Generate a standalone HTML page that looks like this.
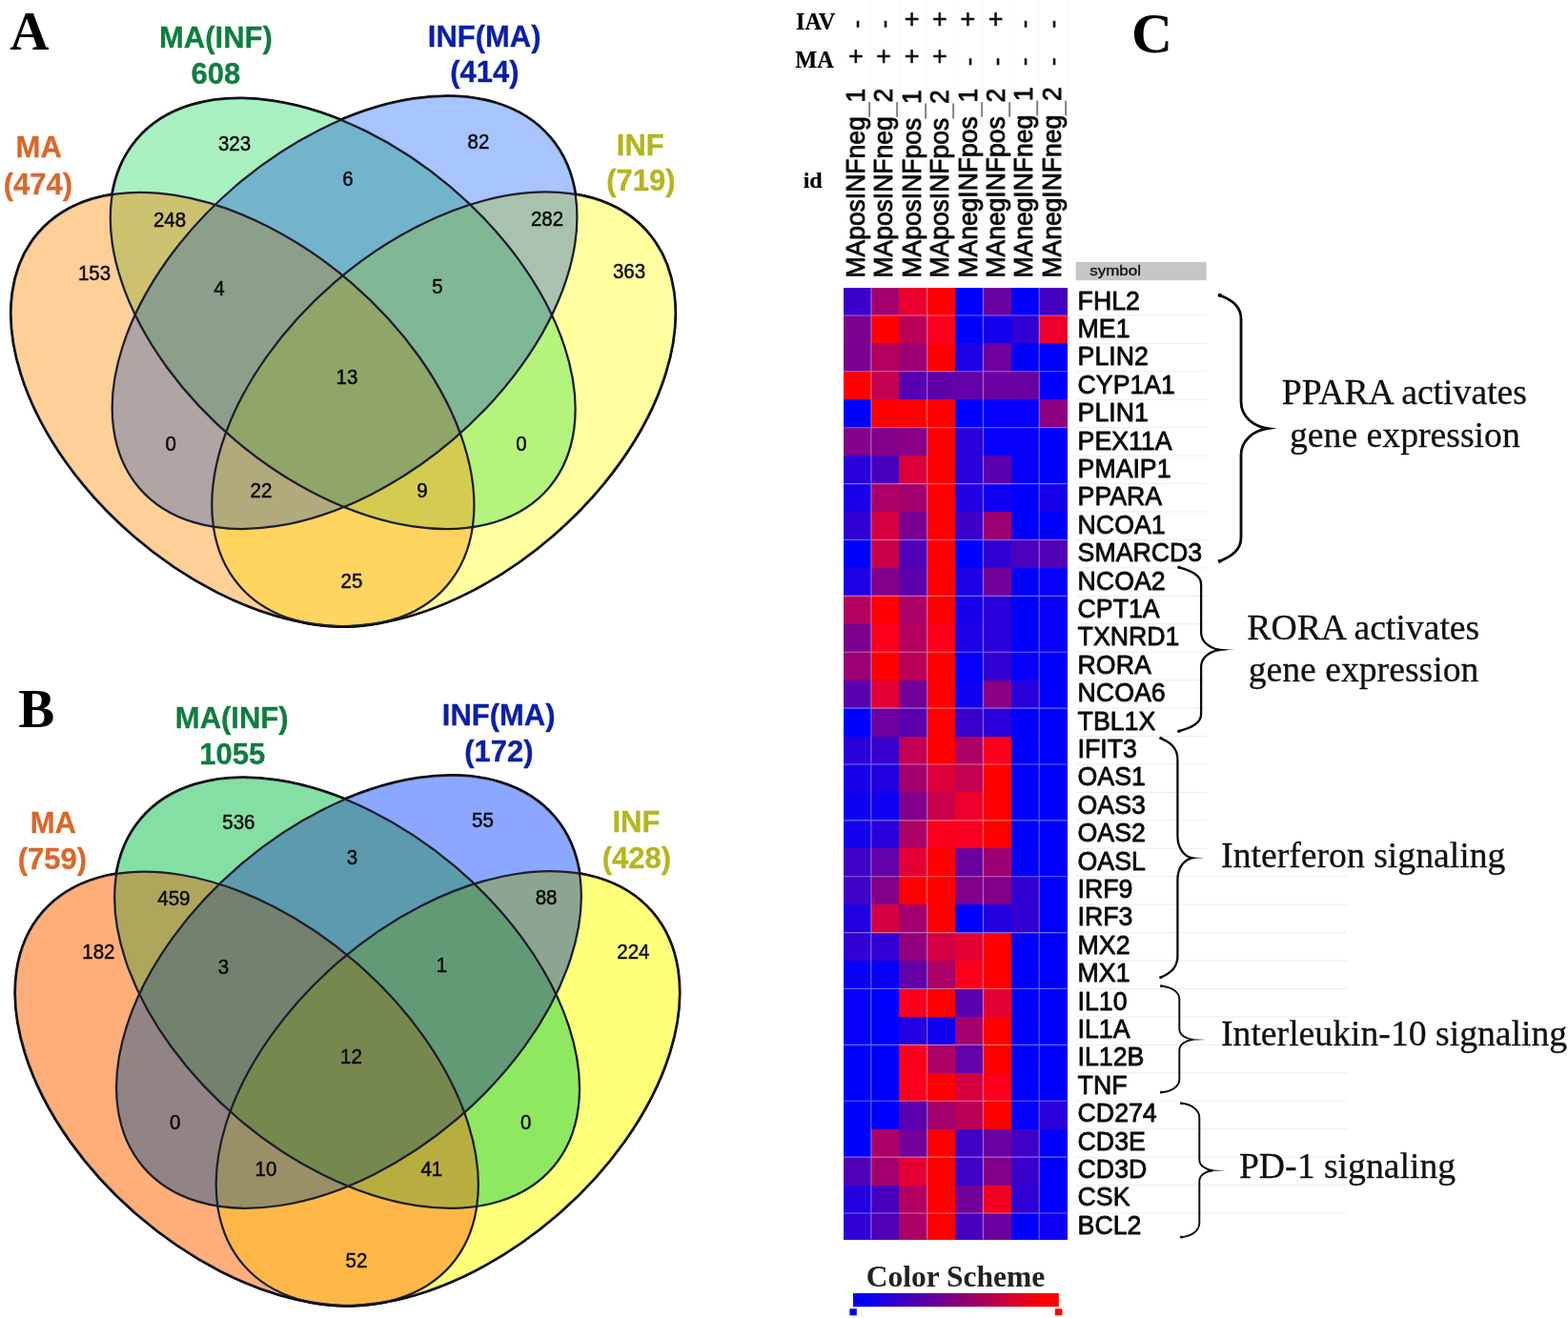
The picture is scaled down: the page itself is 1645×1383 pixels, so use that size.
<!DOCTYPE html>
<html lang="en">
<head>
<meta charset="utf-8">
<title>Figure: Venn diagrams and pathway heat map</title>
<style>
html, body { margin: 0; padding: 0; background: #ffffff; }
body { width: 1645px; height: 1383px; overflow: hidden; }
svg { display: block; }
text { white-space: pre; }
</style>
</head>
<body>
<svg width="1645" height="1383" viewBox="0 0 1645 1383">
<rect x="0" y="0" width="1645" height="1383" fill="#ffffff"/>
<defs>
<clipPath id="ao"><ellipse cx="0" cy="0" rx="283.12" ry="175.13" transform="translate(254.50 429.55) rotate(40.83)" /></clipPath>
<clipPath id="ag"><ellipse cx="0" cy="0" rx="283.04" ry="174.44" transform="translate(359.70 329.05) rotate(40.11)" /></clipPath>
<clipPath id="ab"><ellipse cx="0" cy="0" rx="283.38" ry="175.24" transform="translate(361.55 327.95) rotate(-40.41)" /></clipPath>
<clipPath id="ay"><ellipse cx="0" cy="0" rx="283.30" ry="175.43" transform="translate(465.40 429.30) rotate(-40.84)" /></clipPath>
</defs>
<g clip-path="url(#ao)"><rect x="0" y="90" width="730" height="580" fill="#FFCF98"/></g>
<g clip-path="url(#ag)"><rect x="0" y="90" width="730" height="580" fill="#A9F0C1"/></g>
<g clip-path="url(#ab)"><rect x="0" y="90" width="730" height="580" fill="#A7C4FF"/></g>
<g clip-path="url(#ay)"><rect x="0" y="90" width="730" height="580" fill="#FFFF9F"/></g>
<g clip-path="url(#ag)"><g clip-path="url(#ao)"><rect x="0" y="90" width="730" height="580" fill="#CDC270"/></g></g>
<g clip-path="url(#ab)"><g clip-path="url(#ag)"><rect x="0" y="90" width="730" height="580" fill="#73B4CD"/></g></g>
<g clip-path="url(#ay)"><g clip-path="url(#ab)"><rect x="0" y="90" width="730" height="580" fill="#A8C2AE"/></g></g>
<g clip-path="url(#ab)"><g clip-path="url(#ao)"><rect x="0" y="90" width="730" height="580" fill="#B0A4A4"/></g></g>
<g clip-path="url(#ay)"><g clip-path="url(#ag)"><rect x="0" y="90" width="730" height="580" fill="#B4F47C"/></g></g>
<g clip-path="url(#ay)"><g clip-path="url(#ao)"><rect x="0" y="90" width="730" height="580" fill="#FFD55F"/></g></g>
<g clip-path="url(#ab)"><g clip-path="url(#ag)"><g clip-path="url(#ao)"><rect x="0" y="90" width="730" height="580" fill="#8B9F8B"/></g></g></g>
<g clip-path="url(#ay)"><g clip-path="url(#ab)"><g clip-path="url(#ag)"><rect x="0" y="90" width="730" height="580" fill="#80B896"/></g></g></g>
<g clip-path="url(#ay)"><g clip-path="url(#ab)"><g clip-path="url(#ao)"><rect x="0" y="90" width="730" height="580" fill="#B0AA7C"/></g></g></g>
<g clip-path="url(#ay)"><g clip-path="url(#ag)"><g clip-path="url(#ao)"><rect x="0" y="90" width="730" height="580" fill="#D4CC50"/></g></g></g>
<g clip-path="url(#ay)"><g clip-path="url(#ab)"><g clip-path="url(#ag)"><g clip-path="url(#ao)"><rect x="0" y="90" width="730" height="580" fill="#90A568"/></g></g></g></g>
<ellipse cx="0" cy="0" rx="283.12" ry="175.13" transform="translate(254.50 429.55) rotate(40.83)" fill="none" stroke="#1c1e2c" stroke-width="2.25"/>
<ellipse cx="0" cy="0" rx="283.04" ry="174.44" transform="translate(359.70 329.05) rotate(40.11)" fill="none" stroke="#1c1e2c" stroke-width="2.25"/>
<ellipse cx="0" cy="0" rx="283.38" ry="175.24" transform="translate(361.55 327.95) rotate(-40.41)" fill="none" stroke="#1c1e2c" stroke-width="2.25"/>
<ellipse cx="0" cy="0" rx="283.30" ry="175.43" transform="translate(465.40 429.30) rotate(-40.84)" fill="none" stroke="#1c1e2c" stroke-width="2.25"/>
<mask id="am" maskUnits="userSpaceOnUse" x="-10" y="80" width="750" height="600"><rect x="-10" y="80" width="750" height="600" fill="#fff"/><ellipse cx="0" cy="0" rx="283.12" ry="175.13" transform="translate(254.50 429.55) rotate(40.83)" fill="#000"/><ellipse cx="0" cy="0" rx="283.04" ry="174.44" transform="translate(359.70 329.05) rotate(40.11)" fill="#000"/><ellipse cx="0" cy="0" rx="283.38" ry="175.24" transform="translate(361.55 327.95) rotate(-40.41)" fill="#000"/><ellipse cx="0" cy="0" rx="283.30" ry="175.43" transform="translate(465.40 429.30) rotate(-40.84)" fill="#000"/></mask>
<g mask="url(#am)"><ellipse cx="0" cy="0" rx="283.12" ry="175.13" transform="translate(254.50 429.55) rotate(40.83)" fill="none" stroke="#0b0b0e" stroke-width="3.3"/><ellipse cx="0" cy="0" rx="283.04" ry="174.44" transform="translate(359.70 329.05) rotate(40.11)" fill="none" stroke="#0b0b0e" stroke-width="3.3"/><ellipse cx="0" cy="0" rx="283.38" ry="175.24" transform="translate(361.55 327.95) rotate(-40.41)" fill="none" stroke="#0b0b0e" stroke-width="3.3"/><ellipse cx="0" cy="0" rx="283.30" ry="175.43" transform="translate(465.40 429.30) rotate(-40.84)" fill="none" stroke="#0b0b0e" stroke-width="3.3"/></g>
<text transform="translate(246.00 158.10) scale(1.0 1.06)" font-family='"Liberation Sans", Arial, Helvetica, sans-serif' font-size="20.5" text-anchor="middle" fill="#0a0a0a" stroke="#0a0a0a" stroke-width="0.45" stroke-linejoin="round">323</text>
<text transform="translate(502.00 156.10) scale(1.0 1.06)" font-family='"Liberation Sans", Arial, Helvetica, sans-serif' font-size="20.5" text-anchor="middle" fill="#0a0a0a" stroke="#0a0a0a" stroke-width="0.45" stroke-linejoin="round">82</text>
<text transform="translate(365.00 195.10) scale(1.0 1.06)" font-family='"Liberation Sans", Arial, Helvetica, sans-serif' font-size="20.5" text-anchor="middle" fill="#0a0a0a" stroke="#0a0a0a" stroke-width="0.45" stroke-linejoin="round">6</text>
<text transform="translate(178.00 238.10) scale(1.0 1.06)" font-family='"Liberation Sans", Arial, Helvetica, sans-serif' font-size="20.5" text-anchor="middle" fill="#0a0a0a" stroke="#0a0a0a" stroke-width="0.45" stroke-linejoin="round">248</text>
<text transform="translate(574.00 237.10) scale(1.0 1.06)" font-family='"Liberation Sans", Arial, Helvetica, sans-serif' font-size="20.5" text-anchor="middle" fill="#0a0a0a" stroke="#0a0a0a" stroke-width="0.45" stroke-linejoin="round">282</text>
<text transform="translate(99.00 294.10) scale(1.0 1.06)" font-family='"Liberation Sans", Arial, Helvetica, sans-serif' font-size="20.5" text-anchor="middle" fill="#0a0a0a" stroke="#0a0a0a" stroke-width="0.45" stroke-linejoin="round">153</text>
<text transform="translate(660.00 292.10) scale(1.0 1.06)" font-family='"Liberation Sans", Arial, Helvetica, sans-serif' font-size="20.5" text-anchor="middle" fill="#0a0a0a" stroke="#0a0a0a" stroke-width="0.45" stroke-linejoin="round">363</text>
<text transform="translate(230.00 310.10) scale(1.0 1.06)" font-family='"Liberation Sans", Arial, Helvetica, sans-serif' font-size="20.5" text-anchor="middle" fill="#0a0a0a" stroke="#0a0a0a" stroke-width="0.45" stroke-linejoin="round">4</text>
<text transform="translate(459.00 308.10) scale(1.0 1.06)" font-family='"Liberation Sans", Arial, Helvetica, sans-serif' font-size="20.5" text-anchor="middle" fill="#0a0a0a" stroke="#0a0a0a" stroke-width="0.45" stroke-linejoin="round">5</text>
<text transform="translate(364.00 403.10) scale(1.0 1.06)" font-family='"Liberation Sans", Arial, Helvetica, sans-serif' font-size="20.5" text-anchor="middle" fill="#0a0a0a" stroke="#0a0a0a" stroke-width="0.45" stroke-linejoin="round">13</text>
<text transform="translate(179.20 472.60) scale(1.0 1.06)" font-family='"Liberation Sans", Arial, Helvetica, sans-serif' font-size="20.5" text-anchor="middle" fill="#0a0a0a" stroke="#0a0a0a" stroke-width="0.45" stroke-linejoin="round">0</text>
<text transform="translate(547.00 472.60) scale(1.0 1.06)" font-family='"Liberation Sans", Arial, Helvetica, sans-serif' font-size="20.5" text-anchor="middle" fill="#0a0a0a" stroke="#0a0a0a" stroke-width="0.45" stroke-linejoin="round">0</text>
<text transform="translate(274.00 522.10) scale(1.0 1.06)" font-family='"Liberation Sans", Arial, Helvetica, sans-serif' font-size="20.5" text-anchor="middle" fill="#0a0a0a" stroke="#0a0a0a" stroke-width="0.45" stroke-linejoin="round">22</text>
<text transform="translate(443.00 522.10) scale(1.0 1.06)" font-family='"Liberation Sans", Arial, Helvetica, sans-serif' font-size="20.5" text-anchor="middle" fill="#0a0a0a" stroke="#0a0a0a" stroke-width="0.45" stroke-linejoin="round">9</text>
<text transform="translate(369.00 616.80) scale(1.0 1.06)" font-family='"Liberation Sans", Arial, Helvetica, sans-serif' font-size="20.5" text-anchor="middle" fill="#0a0a0a" stroke="#0a0a0a" stroke-width="0.45" stroke-linejoin="round">25</text>
<text transform="translate(226.40 50.10) scale(1.0 1.04)" font-family='"Liberation Sans", Arial, Helvetica, sans-serif' font-size="31" font-weight="bold" text-anchor="middle" fill="#0F7D3F" stroke="#0F7D3F" stroke-width="0.3" stroke-linejoin="round">MA(INF)</text>
<text transform="translate(226.40 87.70) scale(1.0 1.04)" font-family='"Liberation Sans", Arial, Helvetica, sans-serif' font-size="31" font-weight="bold" text-anchor="middle" fill="#0F7D3F" stroke="#0F7D3F" stroke-width="0.3" stroke-linejoin="round">608</text>
<text transform="translate(508.20 49.30) scale(1.0 1.04)" font-family='"Liberation Sans", Arial, Helvetica, sans-serif' font-size="31" font-weight="bold" text-anchor="middle" fill="#0A1FA8" stroke="#0A1FA8" stroke-width="0.3" stroke-linejoin="round">INF(MA)</text>
<text transform="translate(508.30 86.40) scale(1.0 1.04)" font-family='"Liberation Sans", Arial, Helvetica, sans-serif' font-size="31" font-weight="bold" text-anchor="middle" fill="#0A1FA8" stroke="#0A1FA8" stroke-width="0.3" stroke-linejoin="round">(414)</text>
<text transform="translate(40.70 165.30) scale(1.0 1.04)" font-family='"Liberation Sans", Arial, Helvetica, sans-serif' font-size="31" font-weight="bold" text-anchor="middle" fill="#D9682A" stroke="#D9682A" stroke-width="0.3" stroke-linejoin="round">MA</text>
<text transform="translate(39.80 204.00) scale(1.0 1.04)" font-family='"Liberation Sans", Arial, Helvetica, sans-serif' font-size="31" font-weight="bold" text-anchor="middle" fill="#D9682A" stroke="#D9682A" stroke-width="0.3" stroke-linejoin="round">(474)</text>
<text transform="translate(671.80 162.80) scale(1.0 1.04)" font-family='"Liberation Sans", Arial, Helvetica, sans-serif' font-size="31" font-weight="bold" text-anchor="middle" fill="#B5B51F" stroke="#B5B51F" stroke-width="0.3" stroke-linejoin="round">INF</text>
<text transform="translate(672.30 200.30) scale(1.0 1.04)" font-family='"Liberation Sans", Arial, Helvetica, sans-serif' font-size="31" font-weight="bold" text-anchor="middle" fill="#B5B51F" stroke="#B5B51F" stroke-width="0.3" stroke-linejoin="round">(719)</text>
<defs>
<clipPath id="bo"><ellipse cx="0" cy="0" rx="283.12" ry="175.13" transform="translate(258.90 1142.35) rotate(40.83)" /></clipPath>
<clipPath id="bg"><ellipse cx="0" cy="0" rx="283.04" ry="174.44" transform="translate(364.10 1041.85) rotate(40.11)" /></clipPath>
<clipPath id="bb"><ellipse cx="0" cy="0" rx="283.38" ry="175.24" transform="translate(365.95 1040.75) rotate(-40.41)" /></clipPath>
<clipPath id="by"><ellipse cx="0" cy="0" rx="283.30" ry="175.43" transform="translate(469.80 1142.10) rotate(-40.84)" /></clipPath>
</defs>
<g clip-path="url(#bo)"><rect x="4" y="803" width="730" height="580" fill="#FFAE7A"/></g>
<g clip-path="url(#bg)"><rect x="4" y="803" width="730" height="580" fill="#84DFA5"/></g>
<g clip-path="url(#bb)"><rect x="4" y="803" width="730" height="580" fill="#8BA7FF"/></g>
<g clip-path="url(#by)"><rect x="4" y="803" width="730" height="580" fill="#FFFF79"/></g>
<g clip-path="url(#bg)"><g clip-path="url(#bo)"><rect x="4" y="803" width="730" height="580" fill="#AFA65C"/></g></g>
<g clip-path="url(#bb)"><g clip-path="url(#bg)"><rect x="4" y="803" width="730" height="580" fill="#5C9AB0"/></g></g>
<g clip-path="url(#by)"><g clip-path="url(#bb)"><rect x="4" y="803" width="730" height="580" fill="#8CA590"/></g></g>
<g clip-path="url(#bb)"><g clip-path="url(#bo)"><rect x="4" y="803" width="730" height="580" fill="#928484"/></g></g>
<g clip-path="url(#by)"><g clip-path="url(#bg)"><rect x="4" y="803" width="730" height="580" fill="#8EE860"/></g></g>
<g clip-path="url(#by)"><g clip-path="url(#bo)"><rect x="4" y="803" width="730" height="580" fill="#FFB848"/></g></g>
<g clip-path="url(#bb)"><g clip-path="url(#bg)"><g clip-path="url(#bo)"><rect x="4" y="803" width="730" height="580" fill="#72826E"/></g></g></g>
<g clip-path="url(#by)"><g clip-path="url(#bb)"><g clip-path="url(#bg)"><rect x="4" y="803" width="730" height="580" fill="#629A76"/></g></g></g>
<g clip-path="url(#by)"><g clip-path="url(#bb)"><g clip-path="url(#bo)"><rect x="4" y="803" width="730" height="580" fill="#9A9068"/></g></g></g>
<g clip-path="url(#by)"><g clip-path="url(#bg)"><g clip-path="url(#bo)"><rect x="4" y="803" width="730" height="580" fill="#B8AE40"/></g></g></g>
<g clip-path="url(#by)"><g clip-path="url(#bb)"><g clip-path="url(#bg)"><g clip-path="url(#bo)"><rect x="4" y="803" width="730" height="580" fill="#76884E"/></g></g></g></g>
<ellipse cx="0" cy="0" rx="283.12" ry="175.13" transform="translate(258.90 1142.35) rotate(40.83)" fill="none" stroke="#1c1e2c" stroke-width="2.25"/>
<ellipse cx="0" cy="0" rx="283.04" ry="174.44" transform="translate(364.10 1041.85) rotate(40.11)" fill="none" stroke="#1c1e2c" stroke-width="2.25"/>
<ellipse cx="0" cy="0" rx="283.38" ry="175.24" transform="translate(365.95 1040.75) rotate(-40.41)" fill="none" stroke="#1c1e2c" stroke-width="2.25"/>
<ellipse cx="0" cy="0" rx="283.30" ry="175.43" transform="translate(469.80 1142.10) rotate(-40.84)" fill="none" stroke="#1c1e2c" stroke-width="2.25"/>
<mask id="bm" maskUnits="userSpaceOnUse" x="-6" y="793" width="750" height="600"><rect x="-6" y="793" width="750" height="600" fill="#fff"/><ellipse cx="0" cy="0" rx="283.12" ry="175.13" transform="translate(258.90 1142.35) rotate(40.83)" fill="#000"/><ellipse cx="0" cy="0" rx="283.04" ry="174.44" transform="translate(364.10 1041.85) rotate(40.11)" fill="#000"/><ellipse cx="0" cy="0" rx="283.38" ry="175.24" transform="translate(365.95 1040.75) rotate(-40.41)" fill="#000"/><ellipse cx="0" cy="0" rx="283.30" ry="175.43" transform="translate(469.80 1142.10) rotate(-40.84)" fill="#000"/></mask>
<g mask="url(#bm)"><ellipse cx="0" cy="0" rx="283.12" ry="175.13" transform="translate(258.90 1142.35) rotate(40.83)" fill="none" stroke="#0b0b0e" stroke-width="3.3"/><ellipse cx="0" cy="0" rx="283.04" ry="174.44" transform="translate(364.10 1041.85) rotate(40.11)" fill="none" stroke="#0b0b0e" stroke-width="3.3"/><ellipse cx="0" cy="0" rx="283.38" ry="175.24" transform="translate(365.95 1040.75) rotate(-40.41)" fill="none" stroke="#0b0b0e" stroke-width="3.3"/><ellipse cx="0" cy="0" rx="283.30" ry="175.43" transform="translate(469.80 1142.10) rotate(-40.84)" fill="none" stroke="#0b0b0e" stroke-width="3.3"/></g>
<text transform="translate(250.40 870.30) scale(1.0 1.06)" font-family='"Liberation Sans", Arial, Helvetica, sans-serif' font-size="20.5" text-anchor="middle" fill="#0a0a0a" stroke="#0a0a0a" stroke-width="0.45" stroke-linejoin="round">536</text>
<text transform="translate(506.40 868.30) scale(1.0 1.06)" font-family='"Liberation Sans", Arial, Helvetica, sans-serif' font-size="20.5" text-anchor="middle" fill="#0a0a0a" stroke="#0a0a0a" stroke-width="0.45" stroke-linejoin="round">55</text>
<text transform="translate(369.40 907.30) scale(1.0 1.06)" font-family='"Liberation Sans", Arial, Helvetica, sans-serif' font-size="20.5" text-anchor="middle" fill="#0a0a0a" stroke="#0a0a0a" stroke-width="0.45" stroke-linejoin="round">3</text>
<text transform="translate(182.40 950.30) scale(1.0 1.06)" font-family='"Liberation Sans", Arial, Helvetica, sans-serif' font-size="20.5" text-anchor="middle" fill="#0a0a0a" stroke="#0a0a0a" stroke-width="0.45" stroke-linejoin="round">459</text>
<text transform="translate(573.10 949.30) scale(1.0 1.06)" font-family='"Liberation Sans", Arial, Helvetica, sans-serif' font-size="20.5" text-anchor="middle" fill="#0a0a0a" stroke="#0a0a0a" stroke-width="0.45" stroke-linejoin="round">88</text>
<text transform="translate(103.40 1006.30) scale(1.0 1.06)" font-family='"Liberation Sans", Arial, Helvetica, sans-serif' font-size="20.5" text-anchor="middle" fill="#0a0a0a" stroke="#0a0a0a" stroke-width="0.45" stroke-linejoin="round">182</text>
<text transform="translate(664.40 1005.50) scale(1.0 1.06)" font-family='"Liberation Sans", Arial, Helvetica, sans-serif' font-size="20.5" text-anchor="middle" fill="#0a0a0a" stroke="#0a0a0a" stroke-width="0.45" stroke-linejoin="round">224</text>
<text transform="translate(234.40 1022.30) scale(1.0 1.06)" font-family='"Liberation Sans", Arial, Helvetica, sans-serif' font-size="20.5" text-anchor="middle" fill="#0a0a0a" stroke="#0a0a0a" stroke-width="0.45" stroke-linejoin="round">3</text>
<text transform="translate(463.40 1020.30) scale(1.0 1.06)" font-family='"Liberation Sans", Arial, Helvetica, sans-serif' font-size="20.5" text-anchor="middle" fill="#0a0a0a" stroke="#0a0a0a" stroke-width="0.45" stroke-linejoin="round">1</text>
<text transform="translate(368.40 1115.80) scale(1.0 1.06)" font-family='"Liberation Sans", Arial, Helvetica, sans-serif' font-size="20.5" text-anchor="middle" fill="#0a0a0a" stroke="#0a0a0a" stroke-width="0.45" stroke-linejoin="round">12</text>
<text transform="translate(183.60 1185.30) scale(1.0 1.06)" font-family='"Liberation Sans", Arial, Helvetica, sans-serif' font-size="20.5" text-anchor="middle" fill="#0a0a0a" stroke="#0a0a0a" stroke-width="0.45" stroke-linejoin="round">0</text>
<text transform="translate(551.60 1185.30) scale(1.0 1.06)" font-family='"Liberation Sans", Arial, Helvetica, sans-serif' font-size="20.5" text-anchor="middle" fill="#0a0a0a" stroke="#0a0a0a" stroke-width="0.45" stroke-linejoin="round">0</text>
<text transform="translate(279.00 1234.30) scale(1.0 1.06)" font-family='"Liberation Sans", Arial, Helvetica, sans-serif' font-size="20.5" text-anchor="middle" fill="#0a0a0a" stroke="#0a0a0a" stroke-width="0.45" stroke-linejoin="round">10</text>
<text transform="translate(452.80 1234.30) scale(1.0 1.06)" font-family='"Liberation Sans", Arial, Helvetica, sans-serif' font-size="20.5" text-anchor="middle" fill="#0a0a0a" stroke="#0a0a0a" stroke-width="0.45" stroke-linejoin="round">41</text>
<text transform="translate(374.00 1329.70) scale(1.0 1.06)" font-family='"Liberation Sans", Arial, Helvetica, sans-serif' font-size="20.5" text-anchor="middle" fill="#0a0a0a" stroke="#0a0a0a" stroke-width="0.45" stroke-linejoin="round">52</text>
<text transform="translate(243.20 764.30) scale(1.0 1.04)" font-family='"Liberation Sans", Arial, Helvetica, sans-serif' font-size="31" font-weight="bold" text-anchor="middle" fill="#0F7D3F" stroke="#0F7D3F" stroke-width="0.3" stroke-linejoin="round">MA(INF)</text>
<text transform="translate(243.80 801.70) scale(1.0 1.04)" font-family='"Liberation Sans", Arial, Helvetica, sans-serif' font-size="31" font-weight="bold" text-anchor="middle" fill="#0F7D3F" stroke="#0F7D3F" stroke-width="0.3" stroke-linejoin="round">1055</text>
<text transform="translate(523.20 761.40) scale(1.0 1.04)" font-family='"Liberation Sans", Arial, Helvetica, sans-serif' font-size="31" font-weight="bold" text-anchor="middle" fill="#0A1FA8" stroke="#0A1FA8" stroke-width="0.3" stroke-linejoin="round">INF(MA)</text>
<text transform="translate(523.40 799.00) scale(1.0 1.04)" font-family='"Liberation Sans", Arial, Helvetica, sans-serif' font-size="31" font-weight="bold" text-anchor="middle" fill="#0A1FA8" stroke="#0A1FA8" stroke-width="0.3" stroke-linejoin="round">(172)</text>
<text transform="translate(55.80 874.20) scale(1.0 1.04)" font-family='"Liberation Sans", Arial, Helvetica, sans-serif' font-size="31" font-weight="bold" text-anchor="middle" fill="#D9682A" stroke="#D9682A" stroke-width="0.3" stroke-linejoin="round">MA</text>
<text transform="translate(54.80 912.20) scale(1.0 1.04)" font-family='"Liberation Sans", Arial, Helvetica, sans-serif' font-size="31" font-weight="bold" text-anchor="middle" fill="#D9682A" stroke="#D9682A" stroke-width="0.3" stroke-linejoin="round">(759)</text>
<text transform="translate(667.40 873.40) scale(1.0 1.04)" font-family='"Liberation Sans", Arial, Helvetica, sans-serif' font-size="31" font-weight="bold" text-anchor="middle" fill="#B5B51F" stroke="#B5B51F" stroke-width="0.3" stroke-linejoin="round">INF</text>
<text transform="translate(667.80 911.30) scale(1.0 1.04)" font-family='"Liberation Sans", Arial, Helvetica, sans-serif' font-size="31" font-weight="bold" text-anchor="middle" fill="#B5B51F" stroke="#B5B51F" stroke-width="0.3" stroke-linejoin="round">(428)</text>
<text transform="translate(10.30 51.60)" font-family='"Liberation Serif", "Times New Roman", Times, serif' font-size="57" font-weight="bold" text-anchor="start" fill="#000">A</text>
<text transform="translate(19.30 762.60)" font-family='"Liberation Serif", "Times New Roman", Times, serif' font-size="57" font-weight="bold" text-anchor="start" fill="#000">B</text>
<text transform="translate(1187.00 55.00)" font-family='"Liberation Serif", "Times New Roman", Times, serif' font-size="59.5" font-weight="bold" text-anchor="start" fill="#000">C</text>
<g shape-rendering="crispEdges">
<rect x="884.50" y="301.50" width="29.69" height="29.74" fill="#3C00CA"/>
<rect x="913.89" y="301.50" width="29.69" height="29.74" fill="#A4006D"/>
<rect x="943.27" y="301.50" width="29.69" height="29.74" fill="#EA002E"/>
<rect x="972.66" y="301.50" width="29.69" height="29.74" fill="#FF0000"/>
<rect x="1002.05" y="301.50" width="29.69" height="29.74" fill="#0000FF"/>
<rect x="1031.44" y="301.50" width="29.69" height="29.74" fill="#6800A2"/>
<rect x="1060.82" y="301.50" width="29.69" height="29.74" fill="#0000FF"/>
<rect x="1090.21" y="301.50" width="29.69" height="29.74" fill="#4600C0"/>
<rect x="884.50" y="330.94" width="29.69" height="29.74" fill="#7D0090"/>
<rect x="913.89" y="330.94" width="29.69" height="29.74" fill="#FF0000"/>
<rect x="943.27" y="330.94" width="29.69" height="29.74" fill="#BB0058"/>
<rect x="972.66" y="330.94" width="29.69" height="29.74" fill="#FC001E"/>
<rect x="1002.05" y="330.94" width="29.69" height="29.74" fill="#0000FF"/>
<rect x="1031.44" y="330.94" width="29.69" height="29.74" fill="#1500EC"/>
<rect x="1060.82" y="330.94" width="29.69" height="29.74" fill="#3100D3"/>
<rect x="1090.21" y="330.94" width="29.69" height="29.74" fill="#ED002C"/>
<rect x="884.50" y="360.38" width="29.69" height="29.74" fill="#7A0092"/>
<rect x="913.89" y="360.38" width="29.69" height="29.74" fill="#B3005F"/>
<rect x="943.27" y="360.38" width="29.69" height="29.74" fill="#9C0074"/>
<rect x="972.66" y="360.38" width="29.69" height="29.74" fill="#FF0000"/>
<rect x="1002.05" y="360.38" width="29.69" height="29.74" fill="#1D00E6"/>
<rect x="1031.44" y="360.38" width="29.69" height="29.74" fill="#6D009E"/>
<rect x="1060.82" y="360.38" width="29.69" height="29.74" fill="#0000FF"/>
<rect x="1090.21" y="360.38" width="29.69" height="29.74" fill="#0000FF"/>
<rect x="884.50" y="389.82" width="29.69" height="29.74" fill="#FF0000"/>
<rect x="913.89" y="389.82" width="29.69" height="29.74" fill="#C30051"/>
<rect x="943.27" y="389.82" width="29.69" height="29.74" fill="#5600B2"/>
<rect x="972.66" y="389.82" width="29.69" height="29.74" fill="#6000A9"/>
<rect x="1002.05" y="389.82" width="29.69" height="29.74" fill="#6300A7"/>
<rect x="1031.44" y="389.82" width="29.69" height="29.74" fill="#6800A2"/>
<rect x="1060.82" y="389.82" width="29.69" height="29.74" fill="#6800A2"/>
<rect x="1090.21" y="389.82" width="29.69" height="29.74" fill="#0000FF"/>
<rect x="884.50" y="419.26" width="29.69" height="29.74" fill="#0000FF"/>
<rect x="913.89" y="419.26" width="29.69" height="29.74" fill="#FF0000"/>
<rect x="943.27" y="419.26" width="29.69" height="29.74" fill="#FF0000"/>
<rect x="972.66" y="419.26" width="29.69" height="29.74" fill="#FF0000"/>
<rect x="1002.05" y="419.26" width="29.69" height="29.74" fill="#0000FF"/>
<rect x="1031.44" y="419.26" width="29.69" height="29.74" fill="#0500FA"/>
<rect x="1060.82" y="419.26" width="29.69" height="29.74" fill="#0500FA"/>
<rect x="1090.21" y="419.26" width="29.69" height="29.74" fill="#8C0082"/>
<rect x="884.50" y="448.70" width="29.69" height="29.74" fill="#82008B"/>
<rect x="913.89" y="448.70" width="29.69" height="29.74" fill="#82008B"/>
<rect x="943.27" y="448.70" width="29.69" height="29.74" fill="#870086"/>
<rect x="972.66" y="448.70" width="29.69" height="29.74" fill="#FF0000"/>
<rect x="1002.05" y="448.70" width="29.69" height="29.74" fill="#2A00DA"/>
<rect x="1031.44" y="448.70" width="29.69" height="29.74" fill="#0500FA"/>
<rect x="1060.82" y="448.70" width="29.69" height="29.74" fill="#0500FA"/>
<rect x="1090.21" y="448.70" width="29.69" height="29.74" fill="#0000FF"/>
<rect x="884.50" y="478.14" width="29.69" height="29.74" fill="#2A00DA"/>
<rect x="913.89" y="478.14" width="29.69" height="29.74" fill="#4900BE"/>
<rect x="943.27" y="478.14" width="29.69" height="29.74" fill="#DD003A"/>
<rect x="972.66" y="478.14" width="29.69" height="29.74" fill="#FF0000"/>
<rect x="1002.05" y="478.14" width="29.69" height="29.74" fill="#2A00DA"/>
<rect x="1031.44" y="478.14" width="29.69" height="29.74" fill="#5B00AE"/>
<rect x="1060.82" y="478.14" width="29.69" height="29.74" fill="#0500FA"/>
<rect x="1090.21" y="478.14" width="29.69" height="29.74" fill="#0000FF"/>
<rect x="884.50" y="507.58" width="29.69" height="29.74" fill="#1A00E8"/>
<rect x="913.89" y="507.58" width="29.69" height="29.74" fill="#AC0066"/>
<rect x="943.27" y="507.58" width="29.69" height="29.74" fill="#A4006D"/>
<rect x="972.66" y="507.58" width="29.69" height="29.74" fill="#FF0000"/>
<rect x="1002.05" y="507.58" width="29.69" height="29.74" fill="#2200E1"/>
<rect x="1031.44" y="507.58" width="29.69" height="29.74" fill="#1000F1"/>
<rect x="1060.82" y="507.58" width="29.69" height="29.74" fill="#0000FF"/>
<rect x="1090.21" y="507.58" width="29.69" height="29.74" fill="#1700EA"/>
<rect x="884.50" y="537.02" width="29.69" height="29.74" fill="#3100D3"/>
<rect x="913.89" y="537.02" width="29.69" height="29.74" fill="#D50041"/>
<rect x="943.27" y="537.02" width="29.69" height="29.74" fill="#7A0092"/>
<rect x="972.66" y="537.02" width="29.69" height="29.74" fill="#FF0000"/>
<rect x="1002.05" y="537.02" width="29.69" height="29.74" fill="#3C00CA"/>
<rect x="1031.44" y="537.02" width="29.69" height="29.74" fill="#9C0074"/>
<rect x="1060.82" y="537.02" width="29.69" height="29.74" fill="#0000FF"/>
<rect x="1090.21" y="537.02" width="29.69" height="29.74" fill="#0000FF"/>
<rect x="884.50" y="566.46" width="29.69" height="29.74" fill="#0000FF"/>
<rect x="913.89" y="566.46" width="29.69" height="29.74" fill="#CB004A"/>
<rect x="943.27" y="566.46" width="29.69" height="29.74" fill="#4E00B9"/>
<rect x="972.66" y="566.46" width="29.69" height="29.74" fill="#FF0000"/>
<rect x="1002.05" y="566.46" width="29.69" height="29.74" fill="#0000FF"/>
<rect x="1031.44" y="566.46" width="29.69" height="29.74" fill="#3100D3"/>
<rect x="1060.82" y="566.46" width="29.69" height="29.74" fill="#4B00BC"/>
<rect x="1090.21" y="566.46" width="29.69" height="29.74" fill="#5100B7"/>
<rect x="884.50" y="595.90" width="29.69" height="29.74" fill="#1D00E6"/>
<rect x="913.89" y="595.90" width="29.69" height="29.74" fill="#82008B"/>
<rect x="943.27" y="595.90" width="29.69" height="29.74" fill="#5B00AE"/>
<rect x="972.66" y="595.90" width="29.69" height="29.74" fill="#FF0000"/>
<rect x="1002.05" y="595.90" width="29.69" height="29.74" fill="#1D00E6"/>
<rect x="1031.44" y="595.90" width="29.69" height="29.74" fill="#720099"/>
<rect x="1060.82" y="595.90" width="29.69" height="29.74" fill="#0000FF"/>
<rect x="1090.21" y="595.90" width="29.69" height="29.74" fill="#0500FA"/>
<rect x="884.50" y="625.34" width="29.69" height="29.74" fill="#B3005F"/>
<rect x="913.89" y="625.34" width="29.69" height="29.74" fill="#FF0000"/>
<rect x="943.27" y="625.34" width="29.69" height="29.74" fill="#AC0066"/>
<rect x="972.66" y="625.34" width="29.69" height="29.74" fill="#FF0000"/>
<rect x="1002.05" y="625.34" width="29.69" height="29.74" fill="#1700EA"/>
<rect x="1031.44" y="625.34" width="29.69" height="29.74" fill="#2A00DA"/>
<rect x="1060.82" y="625.34" width="29.69" height="29.74" fill="#0000FF"/>
<rect x="1090.21" y="625.34" width="29.69" height="29.74" fill="#0800F8"/>
<rect x="884.50" y="654.78" width="29.69" height="29.74" fill="#7A0092"/>
<rect x="913.89" y="654.78" width="29.69" height="29.74" fill="#FC001E"/>
<rect x="943.27" y="654.78" width="29.69" height="29.74" fill="#B3005F"/>
<rect x="972.66" y="654.78" width="29.69" height="29.74" fill="#FF001A"/>
<rect x="1002.05" y="654.78" width="29.69" height="29.74" fill="#1D00E6"/>
<rect x="1031.44" y="654.78" width="29.69" height="29.74" fill="#2A00DA"/>
<rect x="1060.82" y="654.78" width="29.69" height="29.74" fill="#0000FF"/>
<rect x="1090.21" y="654.78" width="29.69" height="29.74" fill="#0800F8"/>
<rect x="884.50" y="684.22" width="29.69" height="29.74" fill="#9C0074"/>
<rect x="913.89" y="684.22" width="29.69" height="29.74" fill="#FF0000"/>
<rect x="943.27" y="684.22" width="29.69" height="29.74" fill="#BB0058"/>
<rect x="972.66" y="684.22" width="29.69" height="29.74" fill="#FF0000"/>
<rect x="1002.05" y="684.22" width="29.69" height="29.74" fill="#0500FA"/>
<rect x="1031.44" y="684.22" width="29.69" height="29.74" fill="#3100D3"/>
<rect x="1060.82" y="684.22" width="29.69" height="29.74" fill="#0500FA"/>
<rect x="1090.21" y="684.22" width="29.69" height="29.74" fill="#0000FF"/>
<rect x="884.50" y="713.66" width="29.69" height="29.74" fill="#5B00AE"/>
<rect x="913.89" y="713.66" width="29.69" height="29.74" fill="#E20035"/>
<rect x="943.27" y="713.66" width="29.69" height="29.74" fill="#720099"/>
<rect x="972.66" y="713.66" width="29.69" height="29.74" fill="#FF0000"/>
<rect x="1002.05" y="713.66" width="29.69" height="29.74" fill="#1000F1"/>
<rect x="1031.44" y="713.66" width="29.69" height="29.74" fill="#8A0084"/>
<rect x="1060.82" y="713.66" width="29.69" height="29.74" fill="#2A00DA"/>
<rect x="1090.21" y="713.66" width="29.69" height="29.74" fill="#0000FF"/>
<rect x="884.50" y="743.10" width="29.69" height="29.74" fill="#0000FF"/>
<rect x="913.89" y="743.10" width="29.69" height="29.74" fill="#6D009E"/>
<rect x="943.27" y="743.10" width="29.69" height="29.74" fill="#5B00AE"/>
<rect x="972.66" y="743.10" width="29.69" height="29.74" fill="#FF0000"/>
<rect x="1002.05" y="743.10" width="29.69" height="29.74" fill="#3900CC"/>
<rect x="1031.44" y="743.10" width="29.69" height="29.74" fill="#2A00DA"/>
<rect x="1060.82" y="743.10" width="29.69" height="29.74" fill="#0000FF"/>
<rect x="1090.21" y="743.10" width="29.69" height="29.74" fill="#0000FF"/>
<rect x="884.50" y="772.54" width="29.69" height="29.74" fill="#2A00DA"/>
<rect x="913.89" y="772.54" width="29.69" height="29.74" fill="#3900CC"/>
<rect x="943.27" y="772.54" width="29.69" height="29.74" fill="#C30051"/>
<rect x="972.66" y="772.54" width="29.69" height="29.74" fill="#FF0000"/>
<rect x="1002.05" y="772.54" width="29.69" height="29.74" fill="#AC0066"/>
<rect x="1031.44" y="772.54" width="29.69" height="29.74" fill="#FC001E"/>
<rect x="1060.82" y="772.54" width="29.69" height="29.74" fill="#0000FF"/>
<rect x="1090.21" y="772.54" width="29.69" height="29.74" fill="#0000FF"/>
<rect x="884.50" y="801.98" width="29.69" height="29.74" fill="#1700EA"/>
<rect x="913.89" y="801.98" width="29.69" height="29.74" fill="#2200E1"/>
<rect x="943.27" y="801.98" width="29.69" height="29.74" fill="#A4006D"/>
<rect x="972.66" y="801.98" width="29.69" height="29.74" fill="#DD003A"/>
<rect x="1002.05" y="801.98" width="29.69" height="29.74" fill="#C30051"/>
<rect x="1031.44" y="801.98" width="29.69" height="29.74" fill="#FF0000"/>
<rect x="1060.82" y="801.98" width="29.69" height="29.74" fill="#0000FF"/>
<rect x="1090.21" y="801.98" width="29.69" height="29.74" fill="#0000FF"/>
<rect x="884.50" y="831.42" width="29.69" height="29.74" fill="#1000F1"/>
<rect x="913.89" y="831.42" width="29.69" height="29.74" fill="#1000F1"/>
<rect x="943.27" y="831.42" width="29.69" height="29.74" fill="#82008B"/>
<rect x="972.66" y="831.42" width="29.69" height="29.74" fill="#CB004A"/>
<rect x="1002.05" y="831.42" width="29.69" height="29.74" fill="#ED002C"/>
<rect x="1031.44" y="831.42" width="29.69" height="29.74" fill="#FF0000"/>
<rect x="1060.82" y="831.42" width="29.69" height="29.74" fill="#0000FF"/>
<rect x="1090.21" y="831.42" width="29.69" height="29.74" fill="#0000FF"/>
<rect x="884.50" y="860.86" width="29.69" height="29.74" fill="#1500EC"/>
<rect x="913.89" y="860.86" width="29.69" height="29.74" fill="#2A00DA"/>
<rect x="943.27" y="860.86" width="29.69" height="29.74" fill="#AC0066"/>
<rect x="972.66" y="860.86" width="29.69" height="29.74" fill="#FC001E"/>
<rect x="1002.05" y="860.86" width="29.69" height="29.74" fill="#FA0020"/>
<rect x="1031.44" y="860.86" width="29.69" height="29.74" fill="#FF0000"/>
<rect x="1060.82" y="860.86" width="29.69" height="29.74" fill="#0000FF"/>
<rect x="1090.21" y="860.86" width="29.69" height="29.74" fill="#0000FF"/>
<rect x="884.50" y="890.30" width="29.69" height="29.74" fill="#4100C5"/>
<rect x="913.89" y="890.30" width="29.69" height="29.74" fill="#6300A7"/>
<rect x="943.27" y="890.30" width="29.69" height="29.74" fill="#E50033"/>
<rect x="972.66" y="890.30" width="29.69" height="29.74" fill="#FF0000"/>
<rect x="1002.05" y="890.30" width="29.69" height="29.74" fill="#6B00A0"/>
<rect x="1031.44" y="890.30" width="29.69" height="29.74" fill="#9C0074"/>
<rect x="1060.82" y="890.30" width="29.69" height="29.74" fill="#0000FF"/>
<rect x="1090.21" y="890.30" width="29.69" height="29.74" fill="#0000FF"/>
<rect x="884.50" y="919.74" width="29.69" height="29.74" fill="#4100C5"/>
<rect x="913.89" y="919.74" width="29.69" height="29.74" fill="#82008B"/>
<rect x="943.27" y="919.74" width="29.69" height="29.74" fill="#FF0000"/>
<rect x="972.66" y="919.74" width="29.69" height="29.74" fill="#FF0000"/>
<rect x="1002.05" y="919.74" width="29.69" height="29.74" fill="#82008B"/>
<rect x="1031.44" y="919.74" width="29.69" height="29.74" fill="#82008B"/>
<rect x="1060.82" y="919.74" width="29.69" height="29.74" fill="#3100D3"/>
<rect x="1090.21" y="919.74" width="29.69" height="29.74" fill="#0000FF"/>
<rect x="884.50" y="949.18" width="29.69" height="29.74" fill="#2200E1"/>
<rect x="913.89" y="949.18" width="29.69" height="29.74" fill="#D50041"/>
<rect x="943.27" y="949.18" width="29.69" height="29.74" fill="#A4006D"/>
<rect x="972.66" y="949.18" width="29.69" height="29.74" fill="#FF0000"/>
<rect x="1002.05" y="949.18" width="29.69" height="29.74" fill="#0000FF"/>
<rect x="1031.44" y="949.18" width="29.69" height="29.74" fill="#2400DF"/>
<rect x="1060.82" y="949.18" width="29.69" height="29.74" fill="#3100D3"/>
<rect x="1090.21" y="949.18" width="29.69" height="29.74" fill="#0000FF"/>
<rect x="884.50" y="978.62" width="29.69" height="29.74" fill="#3100D3"/>
<rect x="913.89" y="978.62" width="29.69" height="29.74" fill="#3100D3"/>
<rect x="943.27" y="978.62" width="29.69" height="29.74" fill="#92007D"/>
<rect x="972.66" y="978.62" width="29.69" height="29.74" fill="#D50041"/>
<rect x="1002.05" y="978.62" width="29.69" height="29.74" fill="#E50033"/>
<rect x="1031.44" y="978.62" width="29.69" height="29.74" fill="#FF0000"/>
<rect x="1060.82" y="978.62" width="29.69" height="29.74" fill="#0000FF"/>
<rect x="1090.21" y="978.62" width="29.69" height="29.74" fill="#0000FF"/>
<rect x="884.50" y="1008.06" width="29.69" height="29.74" fill="#0800F8"/>
<rect x="913.89" y="1008.06" width="29.69" height="29.74" fill="#0800F8"/>
<rect x="943.27" y="1008.06" width="29.69" height="29.74" fill="#6300A7"/>
<rect x="972.66" y="1008.06" width="29.69" height="29.74" fill="#AC0066"/>
<rect x="1002.05" y="1008.06" width="29.69" height="29.74" fill="#FC001E"/>
<rect x="1031.44" y="1008.06" width="29.69" height="29.74" fill="#FF0000"/>
<rect x="1060.82" y="1008.06" width="29.69" height="29.74" fill="#0000FF"/>
<rect x="1090.21" y="1008.06" width="29.69" height="29.74" fill="#0000FF"/>
<rect x="884.50" y="1037.50" width="29.69" height="29.74" fill="#0500FA"/>
<rect x="913.89" y="1037.50" width="29.69" height="29.74" fill="#0000FF"/>
<rect x="943.27" y="1037.50" width="29.69" height="29.74" fill="#FC001E"/>
<rect x="972.66" y="1037.50" width="29.69" height="29.74" fill="#FF0000"/>
<rect x="1002.05" y="1037.50" width="29.69" height="29.74" fill="#5B00AE"/>
<rect x="1031.44" y="1037.50" width="29.69" height="29.74" fill="#E50033"/>
<rect x="1060.82" y="1037.50" width="29.69" height="29.74" fill="#0000FF"/>
<rect x="1090.21" y="1037.50" width="29.69" height="29.74" fill="#0000FF"/>
<rect x="884.50" y="1066.94" width="29.69" height="29.74" fill="#0500FA"/>
<rect x="913.89" y="1066.94" width="29.69" height="29.74" fill="#0000FF"/>
<rect x="943.27" y="1066.94" width="29.69" height="29.74" fill="#2200E1"/>
<rect x="972.66" y="1066.94" width="29.69" height="29.74" fill="#1000F1"/>
<rect x="1002.05" y="1066.94" width="29.69" height="29.74" fill="#A4006D"/>
<rect x="1031.44" y="1066.94" width="29.69" height="29.74" fill="#FF0000"/>
<rect x="1060.82" y="1066.94" width="29.69" height="29.74" fill="#0000FF"/>
<rect x="1090.21" y="1066.94" width="29.69" height="29.74" fill="#0000FF"/>
<rect x="884.50" y="1096.38" width="29.69" height="29.74" fill="#0000FF"/>
<rect x="913.89" y="1096.38" width="29.69" height="29.74" fill="#0000FF"/>
<rect x="943.27" y="1096.38" width="29.69" height="29.74" fill="#FF001C"/>
<rect x="972.66" y="1096.38" width="29.69" height="29.74" fill="#AC0066"/>
<rect x="1002.05" y="1096.38" width="29.69" height="29.74" fill="#6300A7"/>
<rect x="1031.44" y="1096.38" width="29.69" height="29.74" fill="#FF0000"/>
<rect x="1060.82" y="1096.38" width="29.69" height="29.74" fill="#0000FF"/>
<rect x="1090.21" y="1096.38" width="29.69" height="29.74" fill="#0000FF"/>
<rect x="884.50" y="1125.82" width="29.69" height="29.74" fill="#0000FF"/>
<rect x="913.89" y="1125.82" width="29.69" height="29.74" fill="#0000FF"/>
<rect x="943.27" y="1125.82" width="29.69" height="29.74" fill="#FF001C"/>
<rect x="972.66" y="1125.82" width="29.69" height="29.74" fill="#FF0000"/>
<rect x="1002.05" y="1125.82" width="29.69" height="29.74" fill="#D50041"/>
<rect x="1031.44" y="1125.82" width="29.69" height="29.74" fill="#FC001E"/>
<rect x="1060.82" y="1125.82" width="29.69" height="29.74" fill="#0000FF"/>
<rect x="1090.21" y="1125.82" width="29.69" height="29.74" fill="#0000FF"/>
<rect x="884.50" y="1155.26" width="29.69" height="29.74" fill="#0000FF"/>
<rect x="913.89" y="1155.26" width="29.69" height="29.74" fill="#0000FF"/>
<rect x="943.27" y="1155.26" width="29.69" height="29.74" fill="#5B00AE"/>
<rect x="972.66" y="1155.26" width="29.69" height="29.74" fill="#A4006D"/>
<rect x="1002.05" y="1155.26" width="29.69" height="29.74" fill="#BB0058"/>
<rect x="1031.44" y="1155.26" width="29.69" height="29.74" fill="#FF0000"/>
<rect x="1060.82" y="1155.26" width="29.69" height="29.74" fill="#0500FA"/>
<rect x="1090.21" y="1155.26" width="29.69" height="29.74" fill="#2A00DA"/>
<rect x="884.50" y="1184.70" width="29.69" height="29.74" fill="#0000FF"/>
<rect x="913.89" y="1184.70" width="29.69" height="29.74" fill="#AC0066"/>
<rect x="943.27" y="1184.70" width="29.69" height="29.74" fill="#720099"/>
<rect x="972.66" y="1184.70" width="29.69" height="29.74" fill="#FF0000"/>
<rect x="1002.05" y="1184.70" width="29.69" height="29.74" fill="#4100C5"/>
<rect x="1031.44" y="1184.70" width="29.69" height="29.74" fill="#6B00A0"/>
<rect x="1060.82" y="1184.70" width="29.69" height="29.74" fill="#4100C5"/>
<rect x="1090.21" y="1184.70" width="29.69" height="29.74" fill="#0000FF"/>
<rect x="884.50" y="1214.14" width="29.69" height="29.74" fill="#5100B7"/>
<rect x="913.89" y="1214.14" width="29.69" height="29.74" fill="#A4006D"/>
<rect x="943.27" y="1214.14" width="29.69" height="29.74" fill="#E50033"/>
<rect x="972.66" y="1214.14" width="29.69" height="29.74" fill="#FF0000"/>
<rect x="1002.05" y="1214.14" width="29.69" height="29.74" fill="#4100C5"/>
<rect x="1031.44" y="1214.14" width="29.69" height="29.74" fill="#82008B"/>
<rect x="1060.82" y="1214.14" width="29.69" height="29.74" fill="#3900CC"/>
<rect x="1090.21" y="1214.14" width="29.69" height="29.74" fill="#0000FF"/>
<rect x="884.50" y="1243.58" width="29.69" height="29.74" fill="#2200E1"/>
<rect x="913.89" y="1243.58" width="29.69" height="29.74" fill="#4900BE"/>
<rect x="943.27" y="1243.58" width="29.69" height="29.74" fill="#B3005F"/>
<rect x="972.66" y="1243.58" width="29.69" height="29.74" fill="#FF0000"/>
<rect x="1002.05" y="1243.58" width="29.69" height="29.74" fill="#720099"/>
<rect x="1031.44" y="1243.58" width="29.69" height="29.74" fill="#F40025"/>
<rect x="1060.82" y="1243.58" width="29.69" height="29.74" fill="#3100D3"/>
<rect x="1090.21" y="1243.58" width="29.69" height="29.74" fill="#0000FF"/>
<rect x="884.50" y="1273.02" width="29.69" height="27.48" fill="#3100D3"/>
<rect x="913.89" y="1273.02" width="29.69" height="27.48" fill="#5100B7"/>
<rect x="943.27" y="1273.02" width="29.69" height="27.48" fill="#AC0066"/>
<rect x="972.66" y="1273.02" width="29.69" height="27.48" fill="#FF0000"/>
<rect x="1002.05" y="1273.02" width="29.69" height="27.48" fill="#4900BE"/>
<rect x="1031.44" y="1273.02" width="29.69" height="27.48" fill="#6B00A0"/>
<rect x="1060.82" y="1273.02" width="29.69" height="27.48" fill="#0000FF"/>
<rect x="1090.21" y="1273.02" width="29.69" height="27.48" fill="#0D00F3"/>
</g>
<path d="M913.89 301.5V1300.5M972.66 301.5V1300.5M1031.44 301.5V1300.5M1090.21 301.5V1300.5M884.5 330.94H1119.6M884.5 389.82H1119.6M884.5 448.70H1119.6M884.5 507.58H1119.6M884.5 566.46H1119.6M884.5 625.34H1119.6M884.5 684.22H1119.6M884.5 743.10H1119.6M884.5 801.98H1119.6M884.5 860.86H1119.6M884.5 919.74H1119.6M884.5 978.62H1119.6M884.5 1037.50H1119.6M884.5 1096.38H1119.6M884.5 1155.26H1119.6M884.5 1214.14H1119.6M884.5 1273.02H1119.6" stroke="#fff" stroke-opacity="0.42" stroke-width="1.1" fill="none"/>
<path d="M1129 330.94H1266M1129 360.38H1266M1129 389.82H1266M1129 419.26H1266M1129 448.70H1266M1129 478.14H1266M1129 507.58H1266M1129 537.02H1266M1129 566.46H1266M1129 595.90H1266M1129 625.34H1266M1129 654.78H1266M1129 684.22H1266M1129 713.66H1266M1129 743.10H1266M1129 772.54H1266M1129 801.98H1266M1129 831.42H1266M1129 860.86H1266M1129 890.30H1266M1129 919.74H1413M1129 949.18H1413M1129 978.62H1413M1129 1008.06H1413M1129 1037.50H1413M1129 1066.94H1413M1129 1096.38H1413M1129 1125.82H1413M1129 1155.26H1413M1129 1184.70H1413M1129 1214.14H1413M1129 1243.58H1413M1129 1273.02H1413" stroke="#ececec" stroke-width="1" fill="none"/>
<path d="M913.89 0V296M943.27 0V296M972.66 0V296M1002.05 0V296M1031.44 0V296M1060.82 0V296M1090.21 0V296M1119.60 0V296" stroke="#f9f9f9" stroke-width="1" fill="none"/>
<text transform="translate(1130.60 324.70) scale(1.0 1.06)" font-family='"Liberation Sans", Arial, Helvetica, sans-serif' font-size="26.7" text-anchor="start" fill="#0a0a0a" stroke="#0a0a0a" stroke-width="0.8" stroke-linejoin="round">FHL2</text>
<text transform="translate(1130.60 354.09) scale(1.0 1.06)" font-family='"Liberation Sans", Arial, Helvetica, sans-serif' font-size="26.7" text-anchor="start" fill="#0a0a0a" stroke="#0a0a0a" stroke-width="0.8" stroke-linejoin="round">ME1</text>
<text transform="translate(1130.60 383.49) scale(1.0 1.06)" font-family='"Liberation Sans", Arial, Helvetica, sans-serif' font-size="26.7" text-anchor="start" fill="#0a0a0a" stroke="#0a0a0a" stroke-width="0.8" stroke-linejoin="round">PLIN2</text>
<text transform="translate(1130.60 412.88) scale(1.0 1.06)" font-family='"Liberation Sans", Arial, Helvetica, sans-serif' font-size="26.7" text-anchor="start" fill="#0a0a0a" stroke="#0a0a0a" stroke-width="0.8" stroke-linejoin="round">CYP1A1</text>
<text transform="translate(1130.60 442.28) scale(1.0 1.06)" font-family='"Liberation Sans", Arial, Helvetica, sans-serif' font-size="26.7" text-anchor="start" fill="#0a0a0a" stroke="#0a0a0a" stroke-width="0.8" stroke-linejoin="round">PLIN1</text>
<text transform="translate(1130.60 471.67) scale(1.0 1.06)" font-family='"Liberation Sans", Arial, Helvetica, sans-serif' font-size="26.7" text-anchor="start" fill="#0a0a0a" stroke="#0a0a0a" stroke-width="0.8" stroke-linejoin="round">PEX11A</text>
<text transform="translate(1130.60 501.07) scale(1.0 1.06)" font-family='"Liberation Sans", Arial, Helvetica, sans-serif' font-size="26.7" text-anchor="start" fill="#0a0a0a" stroke="#0a0a0a" stroke-width="0.8" stroke-linejoin="round">PMAIP1</text>
<text transform="translate(1130.60 530.46) scale(1.0 1.06)" font-family='"Liberation Sans", Arial, Helvetica, sans-serif' font-size="26.7" text-anchor="start" fill="#0a0a0a" stroke="#0a0a0a" stroke-width="0.8" stroke-linejoin="round">PPARA</text>
<text transform="translate(1130.60 559.86) scale(1.0 1.06)" font-family='"Liberation Sans", Arial, Helvetica, sans-serif' font-size="26.7" text-anchor="start" fill="#0a0a0a" stroke="#0a0a0a" stroke-width="0.8" stroke-linejoin="round">NCOA1</text>
<text transform="translate(1130.60 589.25) scale(1.0 1.06)" font-family='"Liberation Sans", Arial, Helvetica, sans-serif' font-size="26.7" text-anchor="start" fill="#0a0a0a" stroke="#0a0a0a" stroke-width="0.8" stroke-linejoin="round">SMARCD3</text>
<text transform="translate(1130.60 618.65) scale(1.0 1.06)" font-family='"Liberation Sans", Arial, Helvetica, sans-serif' font-size="26.7" text-anchor="start" fill="#0a0a0a" stroke="#0a0a0a" stroke-width="0.8" stroke-linejoin="round">NCOA2</text>
<text transform="translate(1130.60 648.04) scale(1.0 1.06)" font-family='"Liberation Sans", Arial, Helvetica, sans-serif' font-size="26.7" text-anchor="start" fill="#0a0a0a" stroke="#0a0a0a" stroke-width="0.8" stroke-linejoin="round">CPT1A</text>
<text transform="translate(1130.60 677.44) scale(1.0 1.06)" font-family='"Liberation Sans", Arial, Helvetica, sans-serif' font-size="26.7" text-anchor="start" fill="#0a0a0a" stroke="#0a0a0a" stroke-width="0.8" stroke-linejoin="round">TXNRD1</text>
<text transform="translate(1130.60 706.84) scale(1.0 1.06)" font-family='"Liberation Sans", Arial, Helvetica, sans-serif' font-size="26.7" text-anchor="start" fill="#0a0a0a" stroke="#0a0a0a" stroke-width="0.8" stroke-linejoin="round">RORA</text>
<text transform="translate(1130.60 736.23) scale(1.0 1.06)" font-family='"Liberation Sans", Arial, Helvetica, sans-serif' font-size="26.7" text-anchor="start" fill="#0a0a0a" stroke="#0a0a0a" stroke-width="0.8" stroke-linejoin="round">NCOA6</text>
<text transform="translate(1130.60 765.62) scale(1.0 1.06)" font-family='"Liberation Sans", Arial, Helvetica, sans-serif' font-size="26.7" text-anchor="start" fill="#0a0a0a" stroke="#0a0a0a" stroke-width="0.8" stroke-linejoin="round">TBL1X</text>
<text transform="translate(1130.60 795.02) scale(1.0 1.06)" font-family='"Liberation Sans", Arial, Helvetica, sans-serif' font-size="26.7" text-anchor="start" fill="#0a0a0a" stroke="#0a0a0a" stroke-width="0.8" stroke-linejoin="round">IFIT3</text>
<text transform="translate(1130.60 824.41) scale(1.0 1.06)" font-family='"Liberation Sans", Arial, Helvetica, sans-serif' font-size="26.7" text-anchor="start" fill="#0a0a0a" stroke="#0a0a0a" stroke-width="0.8" stroke-linejoin="round">OAS1</text>
<text transform="translate(1130.60 853.81) scale(1.0 1.06)" font-family='"Liberation Sans", Arial, Helvetica, sans-serif' font-size="26.7" text-anchor="start" fill="#0a0a0a" stroke="#0a0a0a" stroke-width="0.8" stroke-linejoin="round">OAS3</text>
<text transform="translate(1130.60 883.20) scale(1.0 1.06)" font-family='"Liberation Sans", Arial, Helvetica, sans-serif' font-size="26.7" text-anchor="start" fill="#0a0a0a" stroke="#0a0a0a" stroke-width="0.8" stroke-linejoin="round">OAS2</text>
<text transform="translate(1130.60 912.60) scale(1.0 1.06)" font-family='"Liberation Sans", Arial, Helvetica, sans-serif' font-size="26.7" text-anchor="start" fill="#0a0a0a" stroke="#0a0a0a" stroke-width="0.8" stroke-linejoin="round">OASL</text>
<text transform="translate(1130.60 941.99) scale(1.0 1.06)" font-family='"Liberation Sans", Arial, Helvetica, sans-serif' font-size="26.7" text-anchor="start" fill="#0a0a0a" stroke="#0a0a0a" stroke-width="0.8" stroke-linejoin="round">IRF9</text>
<text transform="translate(1130.60 971.39) scale(1.0 1.06)" font-family='"Liberation Sans", Arial, Helvetica, sans-serif' font-size="26.7" text-anchor="start" fill="#0a0a0a" stroke="#0a0a0a" stroke-width="0.8" stroke-linejoin="round">IRF3</text>
<text transform="translate(1130.60 1000.79) scale(1.0 1.06)" font-family='"Liberation Sans", Arial, Helvetica, sans-serif' font-size="26.7" text-anchor="start" fill="#0a0a0a" stroke="#0a0a0a" stroke-width="0.8" stroke-linejoin="round">MX2</text>
<text transform="translate(1130.60 1030.18) scale(1.0 1.06)" font-family='"Liberation Sans", Arial, Helvetica, sans-serif' font-size="26.7" text-anchor="start" fill="#0a0a0a" stroke="#0a0a0a" stroke-width="0.8" stroke-linejoin="round">MX1</text>
<text transform="translate(1130.60 1059.58) scale(1.0 1.06)" font-family='"Liberation Sans", Arial, Helvetica, sans-serif' font-size="26.7" text-anchor="start" fill="#0a0a0a" stroke="#0a0a0a" stroke-width="0.8" stroke-linejoin="round">IL10</text>
<text transform="translate(1130.60 1088.97) scale(1.0 1.06)" font-family='"Liberation Sans", Arial, Helvetica, sans-serif' font-size="26.7" text-anchor="start" fill="#0a0a0a" stroke="#0a0a0a" stroke-width="0.8" stroke-linejoin="round">IL1A</text>
<text transform="translate(1130.60 1118.37) scale(1.0 1.06)" font-family='"Liberation Sans", Arial, Helvetica, sans-serif' font-size="26.7" text-anchor="start" fill="#0a0a0a" stroke="#0a0a0a" stroke-width="0.8" stroke-linejoin="round">IL12B</text>
<text transform="translate(1130.60 1147.76) scale(1.0 1.06)" font-family='"Liberation Sans", Arial, Helvetica, sans-serif' font-size="26.7" text-anchor="start" fill="#0a0a0a" stroke="#0a0a0a" stroke-width="0.8" stroke-linejoin="round">TNF</text>
<text transform="translate(1130.60 1177.15) scale(1.0 1.06)" font-family='"Liberation Sans", Arial, Helvetica, sans-serif' font-size="26.7" text-anchor="start" fill="#0a0a0a" stroke="#0a0a0a" stroke-width="0.8" stroke-linejoin="round">CD274</text>
<text transform="translate(1130.60 1206.55) scale(1.0 1.06)" font-family='"Liberation Sans", Arial, Helvetica, sans-serif' font-size="26.7" text-anchor="start" fill="#0a0a0a" stroke="#0a0a0a" stroke-width="0.8" stroke-linejoin="round">CD3E</text>
<text transform="translate(1130.60 1235.94) scale(1.0 1.06)" font-family='"Liberation Sans", Arial, Helvetica, sans-serif' font-size="26.7" text-anchor="start" fill="#0a0a0a" stroke="#0a0a0a" stroke-width="0.8" stroke-linejoin="round">CD3D</text>
<text transform="translate(1130.60 1265.34) scale(1.0 1.06)" font-family='"Liberation Sans", Arial, Helvetica, sans-serif' font-size="26.7" text-anchor="start" fill="#0a0a0a" stroke="#0a0a0a" stroke-width="0.8" stroke-linejoin="round">CSK</text>
<text transform="translate(1130.60 1294.73) scale(1.0 1.06)" font-family='"Liberation Sans", Arial, Helvetica, sans-serif' font-size="26.7" text-anchor="start" fill="#0a0a0a" stroke="#0a0a0a" stroke-width="0.8" stroke-linejoin="round">BCL2</text>
<text transform="translate(906.99 291.60) rotate(-90) scale(1.0 1.07)" font-family='"Liberation Sans", Arial, Helvetica, sans-serif' font-size="26.5" text-anchor="start" fill="#0a0a0a" stroke="#0a0a0a" stroke-width="0.85" stroke-linejoin="round">MAposINFneg<tspan fill="#808080" stroke="#808080" stroke-width="0.2">_</tspan>1</text>
<text transform="translate(936.38 291.60) rotate(-90) scale(1.0 1.07)" font-family='"Liberation Sans", Arial, Helvetica, sans-serif' font-size="26.5" text-anchor="start" fill="#0a0a0a" stroke="#0a0a0a" stroke-width="0.85" stroke-linejoin="round">MAposINFneg<tspan fill="#808080" stroke="#808080" stroke-width="0.2">_</tspan>2</text>
<text transform="translate(965.77 291.60) rotate(-90) scale(1.0 1.07)" font-family='"Liberation Sans", Arial, Helvetica, sans-serif' font-size="26.5" text-anchor="start" fill="#0a0a0a" stroke="#0a0a0a" stroke-width="0.85" stroke-linejoin="round">MAposINFpos<tspan fill="#808080" stroke="#808080" stroke-width="0.2">_</tspan>1</text>
<text transform="translate(995.16 291.60) rotate(-90) scale(1.0 1.07)" font-family='"Liberation Sans", Arial, Helvetica, sans-serif' font-size="26.5" text-anchor="start" fill="#0a0a0a" stroke="#0a0a0a" stroke-width="0.85" stroke-linejoin="round">MAposINFpos<tspan fill="#808080" stroke="#808080" stroke-width="0.2">_</tspan>2</text>
<text transform="translate(1024.54 291.60) rotate(-90) scale(1.0 1.07)" font-family='"Liberation Sans", Arial, Helvetica, sans-serif' font-size="26.5" text-anchor="start" fill="#0a0a0a" stroke="#0a0a0a" stroke-width="0.85" stroke-linejoin="round">MAnegINFpos<tspan fill="#808080" stroke="#808080" stroke-width="0.2">_</tspan>1</text>
<text transform="translate(1053.93 291.60) rotate(-90) scale(1.0 1.07)" font-family='"Liberation Sans", Arial, Helvetica, sans-serif' font-size="26.5" text-anchor="start" fill="#0a0a0a" stroke="#0a0a0a" stroke-width="0.85" stroke-linejoin="round">MAnegINFpos<tspan fill="#808080" stroke="#808080" stroke-width="0.2">_</tspan>2</text>
<text transform="translate(1083.32 291.60) rotate(-90) scale(1.0 1.07)" font-family='"Liberation Sans", Arial, Helvetica, sans-serif' font-size="26.5" text-anchor="start" fill="#0a0a0a" stroke="#0a0a0a" stroke-width="0.85" stroke-linejoin="round">MAnegINFneg<tspan fill="#808080" stroke="#808080" stroke-width="0.2">_</tspan>1</text>
<text transform="translate(1112.71 291.60) rotate(-90) scale(1.0 1.07)" font-family='"Liberation Sans", Arial, Helvetica, sans-serif' font-size="26.5" text-anchor="start" fill="#0a0a0a" stroke="#0a0a0a" stroke-width="0.85" stroke-linejoin="round">MAnegINFneg<tspan fill="#808080" stroke="#808080" stroke-width="0.2">_</tspan>2</text>
<rect x="1128.6" y="274.9" width="137" height="19.3" fill="#c6c6c6"/>
<text transform="translate(1143.30 289.30) scale(1.13 1.02)" font-family='"Liberation Sans", Arial, Helvetica, sans-serif' font-size="15" text-anchor="start" fill="#111" stroke="#111" stroke-width="0.35" stroke-linejoin="round">symbol</text>
<text transform="translate(835.00 31.40)" font-family='"Liberation Serif", "Times New Roman", Times, serif' font-size="24.3" font-weight="bold" text-anchor="start" fill="#000" stroke="#000" stroke-width="0.2" stroke-linejoin="round">IAV</text>
<text transform="translate(834.30 71.20)" font-family='"Liberation Serif", "Times New Roman", Times, serif' font-size="24.3" font-weight="bold" text-anchor="start" fill="#000" stroke="#000" stroke-width="0.2" stroke-linejoin="round">MA</text>
<text transform="translate(842.70 197.00)" font-family='"Liberation Serif", "Times New Roman", Times, serif' font-size="24" font-weight="bold" text-anchor="start" fill="#000" stroke="#000" stroke-width="0.2" stroke-linejoin="round">id</text>
<text transform="translate(893.09 25.30) rotate(90)" font-family='"Liberation Sans", Arial, Helvetica, sans-serif' font-size="26" text-anchor="middle" fill="#111" stroke="#111" stroke-width="0.6" stroke-linejoin="round">-</text>
<text transform="translate(897.79 68.10)" font-family='"Liberation Sans", Arial, Helvetica, sans-serif' font-size="27" text-anchor="middle" fill="#111" stroke="#111" stroke-width="0.6" stroke-linejoin="round">+</text>
<text transform="translate(922.48 25.30) rotate(90)" font-family='"Liberation Sans", Arial, Helvetica, sans-serif' font-size="26" text-anchor="middle" fill="#111" stroke="#111" stroke-width="0.6" stroke-linejoin="round">-</text>
<text transform="translate(927.18 68.10)" font-family='"Liberation Sans", Arial, Helvetica, sans-serif' font-size="27" text-anchor="middle" fill="#111" stroke="#111" stroke-width="0.6" stroke-linejoin="round">+</text>
<text transform="translate(956.57 28.60)" font-family='"Liberation Sans", Arial, Helvetica, sans-serif' font-size="27" text-anchor="middle" fill="#111" stroke="#111" stroke-width="0.6" stroke-linejoin="round">+</text>
<text transform="translate(956.57 68.10)" font-family='"Liberation Sans", Arial, Helvetica, sans-serif' font-size="27" text-anchor="middle" fill="#111" stroke="#111" stroke-width="0.6" stroke-linejoin="round">+</text>
<text transform="translate(985.96 28.60)" font-family='"Liberation Sans", Arial, Helvetica, sans-serif' font-size="27" text-anchor="middle" fill="#111" stroke="#111" stroke-width="0.6" stroke-linejoin="round">+</text>
<text transform="translate(985.96 68.10)" font-family='"Liberation Sans", Arial, Helvetica, sans-serif' font-size="27" text-anchor="middle" fill="#111" stroke="#111" stroke-width="0.6" stroke-linejoin="round">+</text>
<text transform="translate(1015.34 28.60)" font-family='"Liberation Sans", Arial, Helvetica, sans-serif' font-size="27" text-anchor="middle" fill="#111" stroke="#111" stroke-width="0.6" stroke-linejoin="round">+</text>
<text transform="translate(1010.64 64.80) rotate(90)" font-family='"Liberation Sans", Arial, Helvetica, sans-serif' font-size="26" text-anchor="middle" fill="#111" stroke="#111" stroke-width="0.6" stroke-linejoin="round">-</text>
<text transform="translate(1044.73 28.60)" font-family='"Liberation Sans", Arial, Helvetica, sans-serif' font-size="27" text-anchor="middle" fill="#111" stroke="#111" stroke-width="0.6" stroke-linejoin="round">+</text>
<text transform="translate(1040.03 64.80) rotate(90)" font-family='"Liberation Sans", Arial, Helvetica, sans-serif' font-size="26" text-anchor="middle" fill="#111" stroke="#111" stroke-width="0.6" stroke-linejoin="round">-</text>
<text transform="translate(1069.42 25.30) rotate(90)" font-family='"Liberation Sans", Arial, Helvetica, sans-serif' font-size="26" text-anchor="middle" fill="#111" stroke="#111" stroke-width="0.6" stroke-linejoin="round">-</text>
<text transform="translate(1069.42 64.80) rotate(90)" font-family='"Liberation Sans", Arial, Helvetica, sans-serif' font-size="26" text-anchor="middle" fill="#111" stroke="#111" stroke-width="0.6" stroke-linejoin="round">-</text>
<text transform="translate(1098.81 25.30) rotate(90)" font-family='"Liberation Sans", Arial, Helvetica, sans-serif' font-size="26" text-anchor="middle" fill="#111" stroke="#111" stroke-width="0.6" stroke-linejoin="round">-</text>
<text transform="translate(1098.81 64.80) rotate(90)" font-family='"Liberation Sans", Arial, Helvetica, sans-serif' font-size="26" text-anchor="middle" fill="#111" stroke="#111" stroke-width="0.6" stroke-linejoin="round">-</text>
<path d="M1279.7 309.8 C1292.0 314.8 1302.0 321.1 1302.0 334.8 L1302.0 421.6 C1302.0 437.0 1314.6 447.4 1330.0 449.6 C1314.6 451.8 1302.0 462.2 1302.0 477.6 L1302.0 563.8 C1302.0 577.5 1292.0 583.8 1279.7 588.8" fill="none" stroke="#0a0a0a" stroke-width="2.8" stroke-linecap="round" stroke-linejoin="miter" stroke-miterlimit="8"/>
<circle cx="1279.7" cy="309.8" r="2.10" fill="#0a0a0a"/><circle cx="1279.7" cy="588.8" r="2.10" fill="#0a0a0a"/>
<path d="M1327.0 448.5 L1339.0 449.6 L1327.0 450.70000000000005Z" fill="#0a0a0a" opacity="0.75"/>
<path d="M1236.9 595.3 C1249.7 598.9 1260.1 603.4 1260.1 613.3 L1260.1 663.8 C1260.1 673.7 1269.1 680.4 1280.0 681.8 C1269.1 683.2 1260.1 689.9 1260.1 699.8 L1260.1 749.2 C1260.1 759.1 1249.7 763.6 1236.9 767.2" fill="none" stroke="#0a0a0a" stroke-width="2.3" stroke-linecap="round" stroke-linejoin="miter" stroke-miterlimit="8"/>
<circle cx="1236.9" cy="595.3" r="1.72" fill="#0a0a0a"/><circle cx="1236.9" cy="767.2" r="1.72" fill="#0a0a0a"/>
<path d="M1277.0 680.6999999999999 L1295.4 681.8 L1277.0 682.9Z" fill="#0a0a0a" opacity="0.75"/>
<path d="M1217.8 774.6 C1227.5 779.0 1235.4 784.5 1235.4 796.6 L1235.4 877.3 C1235.4 889.9 1242.2 898.5 1250.5 900.3 C1242.2 902.1 1235.4 910.6 1235.4 923.3 L1235.4 1003.6 C1235.4 1015.7 1227.5 1021.2 1217.8 1025.6" fill="none" stroke="#0a0a0a" stroke-width="2.3" stroke-linecap="round" stroke-linejoin="miter" stroke-miterlimit="8"/>
<circle cx="1217.8" cy="774.6" r="1.72" fill="#0a0a0a"/><circle cx="1217.8" cy="1025.6" r="1.72" fill="#0a0a0a"/>
<path d="M1247.5 899.1999999999999 L1263.8 900.3 L1247.5 901.4Z" fill="#0a0a0a" opacity="0.75"/>
<path d="M1218.4 1034.7 C1228.8 1035.4 1237.3 1040.8 1237.3 1048.2 L1237.3 1079.7 C1237.3 1085.9 1243.7 1090.0 1251.5 1090.9 C1243.7 1091.8 1237.3 1095.9 1237.3 1102.1 L1237.3 1132.7 C1237.3 1140.1 1228.8 1145.5 1218.4 1146.2" fill="none" stroke="#0a0a0a" stroke-width="1.9" stroke-linecap="round" stroke-linejoin="miter" stroke-miterlimit="8"/>
<circle cx="1218.4" cy="1034.7" r="1.42" fill="#0a0a0a"/><circle cx="1218.4" cy="1146.2" r="1.42" fill="#0a0a0a"/>
<path d="M1248.5 1089.8000000000002 L1265.0 1090.9 L1248.5 1092.0Z" fill="#0a0a0a" opacity="0.75"/>
<path d="M1239.4 1157.7 C1249.8 1158.5 1258.3 1164.5 1258.3 1172.7 L1258.3 1217.0 C1258.3 1223.2 1264.7 1227.3 1272.5 1228.2 C1264.7 1229.1 1258.3 1233.2 1258.3 1239.4 L1258.3 1283.2 C1258.3 1291.5 1249.8 1297.5 1239.4 1298.2" fill="none" stroke="#0a0a0a" stroke-width="1.9" stroke-linecap="round" stroke-linejoin="miter" stroke-miterlimit="8"/>
<circle cx="1239.4" cy="1157.7" r="1.42" fill="#0a0a0a"/><circle cx="1239.4" cy="1298.2" r="1.42" fill="#0a0a0a"/>
<path d="M1269.5 1227.1000000000001 L1286.0 1228.2 L1269.5 1229.3Z" fill="#0a0a0a" opacity="0.75"/>
<text transform="translate(1473.40 423.90)" font-family='"Liberation Serif", "Times New Roman", Times, serif' font-size="37.7" text-anchor="middle" fill="#111" stroke="#111" stroke-width="0.3" stroke-linejoin="round">PPARA activates</text>
<text transform="translate(1473.90 468.60)" font-family='"Liberation Serif", "Times New Roman", Times, serif' font-size="37.7" text-anchor="middle" fill="#111" stroke="#111" stroke-width="0.3" stroke-linejoin="round">gene expression</text>
<text transform="translate(1430.30 671.00)" font-family='"Liberation Serif", "Times New Roman", Times, serif' font-size="37.7" text-anchor="middle" fill="#111" stroke="#111" stroke-width="0.3" stroke-linejoin="round">RORA activates</text>
<text transform="translate(1430.50 715.20)" font-family='"Liberation Serif", "Times New Roman", Times, serif' font-size="37.7" text-anchor="middle" fill="#111" stroke="#111" stroke-width="0.3" stroke-linejoin="round">gene expression</text>
<text transform="translate(1430.20 910.40)" font-family='"Liberation Serif", "Times New Roman", Times, serif' font-size="37.7" text-anchor="middle" fill="#111" stroke="#111" stroke-width="0.3" stroke-linejoin="round">Interferon signaling</text>
<text transform="translate(1281.00 1097.30)" font-family='"Liberation Serif", "Times New Roman", Times, serif' font-size="37.7" text-anchor="start" fill="#111" stroke="#111" stroke-width="0.3" stroke-linejoin="round">Interleukin-10 signaling</text>
<text transform="translate(1413.50 1235.70)" font-family='"Liberation Serif", "Times New Roman", Times, serif' font-size="37.7" text-anchor="middle" fill="#111" stroke="#111" stroke-width="0.3" stroke-linejoin="round">PD-1 signaling</text>
<text transform="translate(1002.50 1350.20)" font-family='"Liberation Serif", "Times New Roman", Times, serif' font-size="31.5" font-weight="bold" text-anchor="middle" fill="#262222">Color Scheme</text>
<defs><linearGradient id="cs" x1="0" y1="0" x2="1" y2="0"><stop offset="0" stop-color="#0000FF"/><stop offset="0.04" stop-color="#0000FF"/><stop offset="0.93" stop-color="#FF0000"/><stop offset="1" stop-color="#FF0000"/></linearGradient></defs>
<rect x="895" y="1356.9" width="215.8" height="14.3" fill="url(#cs)"/>
<rect x="891.4" y="1373.3" width="7.4" height="7" fill="#0000FF"/>
<rect x="1106.8" y="1373.3" width="7.6" height="7" fill="#FF0000"/>
</svg>
</body>
</html>
